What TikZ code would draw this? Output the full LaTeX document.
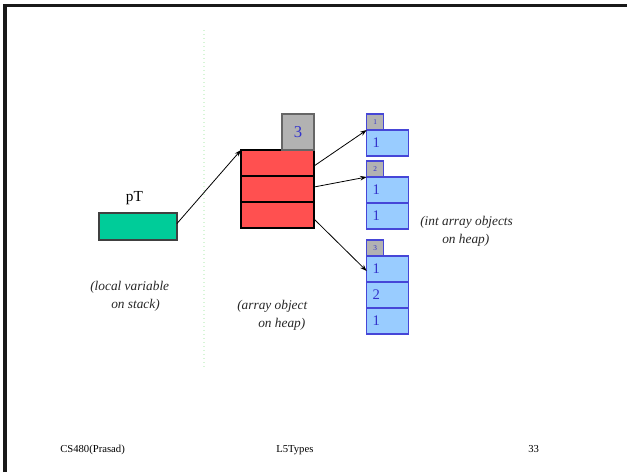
\documentclass[tikz,border=0pt]{standalone}
\usepackage{fontspec}
\setmainfont{Liberation Serif}
\usetikzlibrary{arrows.meta,calc}
\definecolor{stackgreen}{RGB}{0,204,153}
\definecolor{heapred}{RGB}{255,80,80}
\definecolor{cellblue}{RGB}{153,204,255}
\definecolor{edgeblue}{RGB}{70,70,215}
\definecolor{numblue}{RGB}{51,51,204}
\definecolor{boxgray}{RGB}{178,178,178}
\definecolor{guide}{RGB}{215,245,215}
\begin{document}
\begin{tikzpicture}[x=0.75pt,y=-0.75pt,
  cell/.style={draw, outer sep=0pt, inner sep=0pt, line width=0.8pt},
  redcell/.style={cell, draw=black, fill=heapred, minimum width=54.75pt, minimum height=19.5pt},
  bluecell/.style={cell, draw=edgeblue, fill=cellblue, minimum width=31.5pt, minimum height=19.5pt,
     text=numblue, font=\fontsize{11}{13}\selectfont, align=left, text width=22.5pt, inner xsep=4.5pt},
  tagbox/.style={cell, draw=edgeblue, fill=boxgray, minimum width=12.75pt, minimum height=12pt,
     text=numblue, font=\fontsize{5.5}{6}\selectfont},
  note/.style={inner sep=0pt, anchor=base west, font=\fontsize{10}{12}\selectfont\itshape, text=black!85},
  foot/.style={inner sep=0pt, anchor=base west, font=\fontsize{8}{10}\selectfont},
  ptr/.style={line width=0.6pt, -{Stealth[length=5pt,width=3.5pt]}}]
\useasboundingbox (0,0) rectangle (627,472);
% slide frame
\draw[line width=2.5pt, black!90] (5,472) -- (5,5.3) -- (627,5.3);
% faint guide line
\draw[guide, line width=1pt, dotted] (204,30) -- (204,368);

% local variable
\node[cell, draw=black!75, fill=stackgreen, minimum width=58.5pt, minimum height=20.25pt] (pt) at (138,226.5) {};
\node[inner sep=0pt, anchor=base, font=\fontsize{11.5}{13}\selectfont] (ptlabel) at (134.5,201) {pT};

% array object
\node[redcell] (r1) at (277.5,163) {};
\node[redcell] (r2) at (277.5,189) {};
\node[redcell] (r3) at (277.5,215) {};
\node[cell, draw=black!60, fill=boxgray, minimum width=24pt, minimum height=27pt,
      text=numblue, font=\fontsize{12.5}{14}\selectfont] (len) at (298,132) {3};

% int array 1
\node[tagbox] (t1) at (375.3,122) {1};
\node[bluecell] (a11) at (387.7,143) {1};
% int array 2
\node[tagbox] (t2) at (375.3,169) {2};
\node[bluecell] (a21) at (387.7,190) {1};
\node[bluecell] (a22) at (387.7,216) {1};
% int array 3
\node[tagbox] (t3) at (375.3,248) {3};
\node[bluecell] (a31) at (387.7,269) {1};
\node[bluecell] (a32) at (387.7,295) {2};
\node[bluecell] (a33) at (387.7,321) {1};

% pointers
\draw[ptr] ($(pt.east)+(0,-3)$) -- (r1.north west);
\draw[ptr] ($(r1.east)+(0,3)$) -- (a11.north west);
\draw[ptr] ($(r2.east)+(0,-2)$) -- (a21.north west);
\draw[ptr] ($(r3.east)+(0,4)$) -- ($(a31.west)+(0,2)$);

% notes
\node[note] (n1a) at (90,290) {(local variable};
\node[note] (n1b) at (111,308) {on stack)};
\node[note] (n2a) at (237,309) {(array object};
\node[note] (n2b) at (258,327.5) {on heap)};
\node[note] (n3a) at (420,225) {(int array objects};
\node[note] (n3b) at (442,243) {on heap)};

% footer
\node[foot] (f1) at (60,452) {CS480(Prasad)};
\node[foot] (f2) at (276,452) {L5Types};
\node[foot] (f3) at (528,452) {33};
\end{tikzpicture}
\end{document}
